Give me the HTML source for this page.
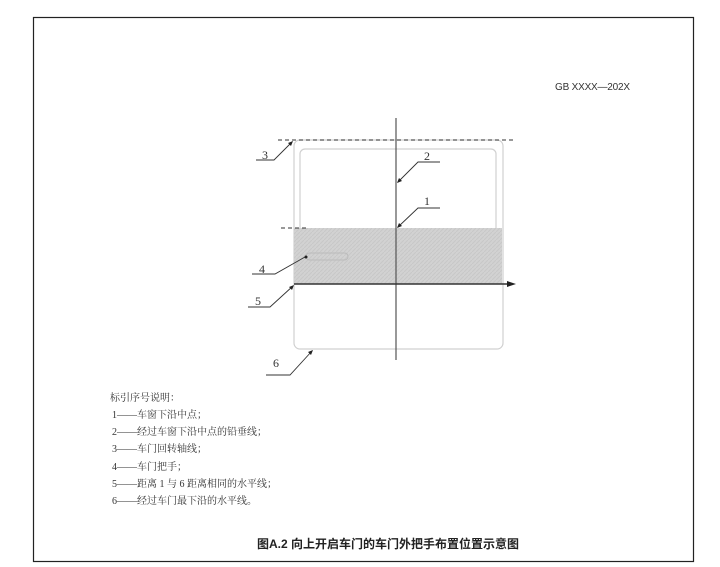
<!DOCTYPE html>
<html><head><meta charset="utf-8"><style>
body{margin:0;background:#fff;width:720px;height:567px;overflow:hidden;position:relative;font-family:"Liberation Serif","Noto Serif CJK SC",serif;}
.t{position:absolute;font-size:10px;color:#333;white-space:nowrap;}
</style></head><body>
<svg width="720" height="567" style="position:absolute;left:0;top:0">
<defs><pattern id="h" width="4" height="4" patternUnits="userSpaceOnUse"><rect width="4" height="4" fill="#d2d2d2"/><path d="M0 4L4 0" stroke="#c8c8c8" stroke-width="1"/></pattern></defs>
<rect x="33.5" y="17.5" width="660" height="544" fill="none" stroke="#222" stroke-width="1.2"/>
<rect x="294" y="140" width="209" height="209" rx="6" fill="none" stroke="#d0d0d0" stroke-width="1.2"/>
<rect x="300" y="149" width="196" height="84" rx="5" fill="none" stroke="#d0d0d0" stroke-width="1.2"/>
<rect x="294" y="228" width="208" height="56" fill="url(#h)"/>
<rect x="306" y="253" width="42" height="7" rx="3.5" fill="none" stroke="#bbb"/>
<line x1="278" y1="140" x2="513" y2="140" stroke="#333" stroke-dasharray="4,3"/>
<line x1="281" y1="228" x2="306" y2="228" stroke="#333" stroke-dasharray="4,3"/>
<line x1="396" y1="118" x2="396" y2="360" stroke="#555" stroke-width="1.2"/>
<line x1="294" y1="284" x2="510" y2="284" stroke="#333" stroke-width="1.5"/>
<path d="M516 284L507 281L507 287Z" fill="#222"/>
<g stroke="#333" stroke-width="0.9" fill="none">
<polyline points="256,160 274,160 292,142"/>
<polyline points="440,162 418,162 398,182"/>
<polyline points="440,208 418,208 398,227"/>
<polyline points="252,274 275,274 305,257"/>
<polyline points="248,307 270,307 293,286"/>
<polyline points="266,375 290,375 312,351"/>
</g>
<g fill="#222">
<path d="M293,141 l-5,2 l3,3z"/>
<path d="M397,183 l2,-5 l3,3z"/>
<path d="M397,228 l2,-5 l3,3z"/>
<circle cx="306" cy="257" r="1.5"/>
<path d="M294,285 l-5,2 l3,3z"/>
<path d="M313,350 l-5,2 l3,3z"/>
</g>
<g font-family="Liberation Serif,serif" font-size="12" fill="#333">
<text x="262" y="159">3</text><text x="424" y="160">2</text><text x="424" y="205">1</text>
<text x="259" y="273">4</text><text x="255" y="305">5</text><text x="273" y="367">6</text>
</g>
</svg>
<div class="t" style="left:555px;top:82px;font-family:'Liberation Sans',sans-serif;font-size:10px;color:#333;letter-spacing:-0.2px">GB XXXX—202X</div>
<div class="t" style="left:110px;top:389px">标引序号说明：</div>
<div class="t" style="left:112px;top:406px">1——车窗下沿中点；</div>
<div class="t" style="left:112px;top:423px">2——经过车窗下沿中点的铅垂线；</div>
<div class="t" style="left:112px;top:440px">3——车门回转轴线；</div>
<div class="t" style="left:112px;top:458px">4——车门把手；</div>
<div class="t" style="left:112px;top:475px">5——距离 1 与 6 距离相同的水平线；</div>
<div class="t" style="left:112px;top:492px">6——经过车门最下沿的水平线。</div>
<div class="t" style="left:257px;top:535px;font-family:'Liberation Sans','Noto Sans CJK SC',sans-serif;font-weight:bold;font-size:12px;color:#222">图A.2 向上开启车门的车门外把手布置位置示意图</div>
</body></html>
